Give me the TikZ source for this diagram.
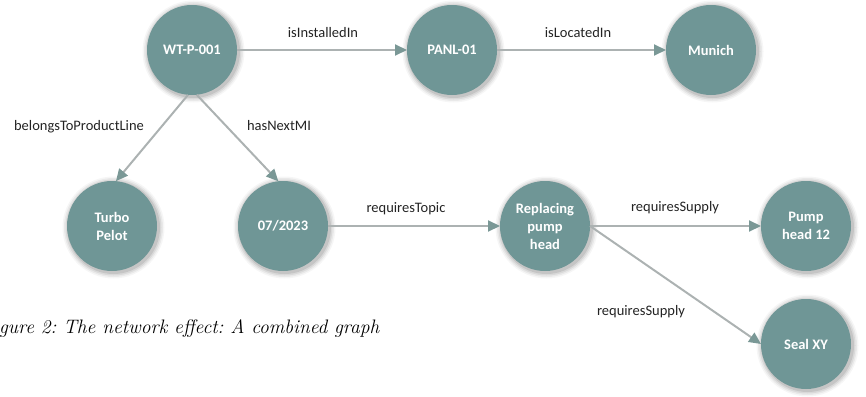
\documentclass[tikz,border=0pt]{standalone}
\usepackage{fontspec}
\newfontfamily\lab{Carlito}
\usetikzlibrary{arrows.meta,calc}
\definecolor{nodecol}{RGB}{111,150,150}
\definecolor{linecol}{RGB}{172,178,178}
\definecolor{headcol}{RGB}{122,152,150}
\definecolor{textcol}{RGB}{35,35,35}
\newcommand\softshadow[1]{%
  \foreach \rr/\oo in {51/0.035,49.5/0.05,48/0.07,46.5/0.09}{%
    \fill[black,opacity=\oo] ($(#1)+(1.5,1.5)$) circle (\rr pt);}}
\tikzset{
  ent/.style={circle, minimum size=90pt, inner sep=0pt, outer sep=0pt, fill=nodecol,
    text=white, align=center, font=\lab\bfseries\fontsize{14.5}{18}\selectfont},
  rel/.style={draw=linecol, line width=2pt,
    -{Triangle[length=12pt,width=11pt,color=headcol]}},
  rlab/.style={inner sep=0pt, text=textcol, font=\lab\fontsize{14.5}{18}\selectfont}
}
\begin{document}
\frenchspacing
\begin{tikzpicture}[x=1pt,y=-1pt]
\useasboundingbox (0,0) rectangle (866,396);
% shadows
\foreach \p in {{192,50},{452,50},{711,50},{112,226},{283,226},{545,226},{806,226},{806,344}}{\softshadow{\p}}
% entities
\node[ent] (wt) at (192,50) {WT-P-001};
\node[ent] (panl) at (452,50) {PANL-01};
\node[ent] (mun) at (711,50) {Munich};
\node[ent] (turbo) at (112,226) {Turbo\\Pelot};
\node[ent] (d07) at (283,226) {07/2023};
\node[ent] (rep) at (545,226) {Replacing\\pump\\head};
\node[ent] (pump) at (806,226) {Pump\\head 12};
\node[ent] (seal) at (806,344) {Seal XY};
% relations
\draw[rel] (wt) -- (panl);
\draw[rel] (panl) -- (mun);
\draw[rel] (wt.-95) -- (turbo.85);
\draw[rel] (wt.-84) -- (d07.96);
\draw[rel] (d07) -- (rep);
\draw[rel] (rep.east) -- (pump.west);
\draw[rel] (rep.east) -- (seal.west);
% labels
\node[rlab] (l1) at (323,33) {isInstalledIn};
\node[rlab] (l2) at (578,33) {isLocatedIn};
\node[rlab] (l3) at (79,127) {belongsToProductLine};
\node[rlab] (l4) at (279,126) {hasNextMI};
\node[rlab] (l5) at (406,209) {requiresTopic};
\node[rlab] (l6) at (675,208) {requiresSupply};
\node[rlab] (l7) at (641,312) {requiresSupply};
% caption
\node[anchor=base west, inner sep=0pt, font=\itshape\fontsize{19.5}{23}\selectfont] (cap) at (-1,333) {gure 2: The network effect: A combined graph};
\end{tikzpicture}
\end{document}
